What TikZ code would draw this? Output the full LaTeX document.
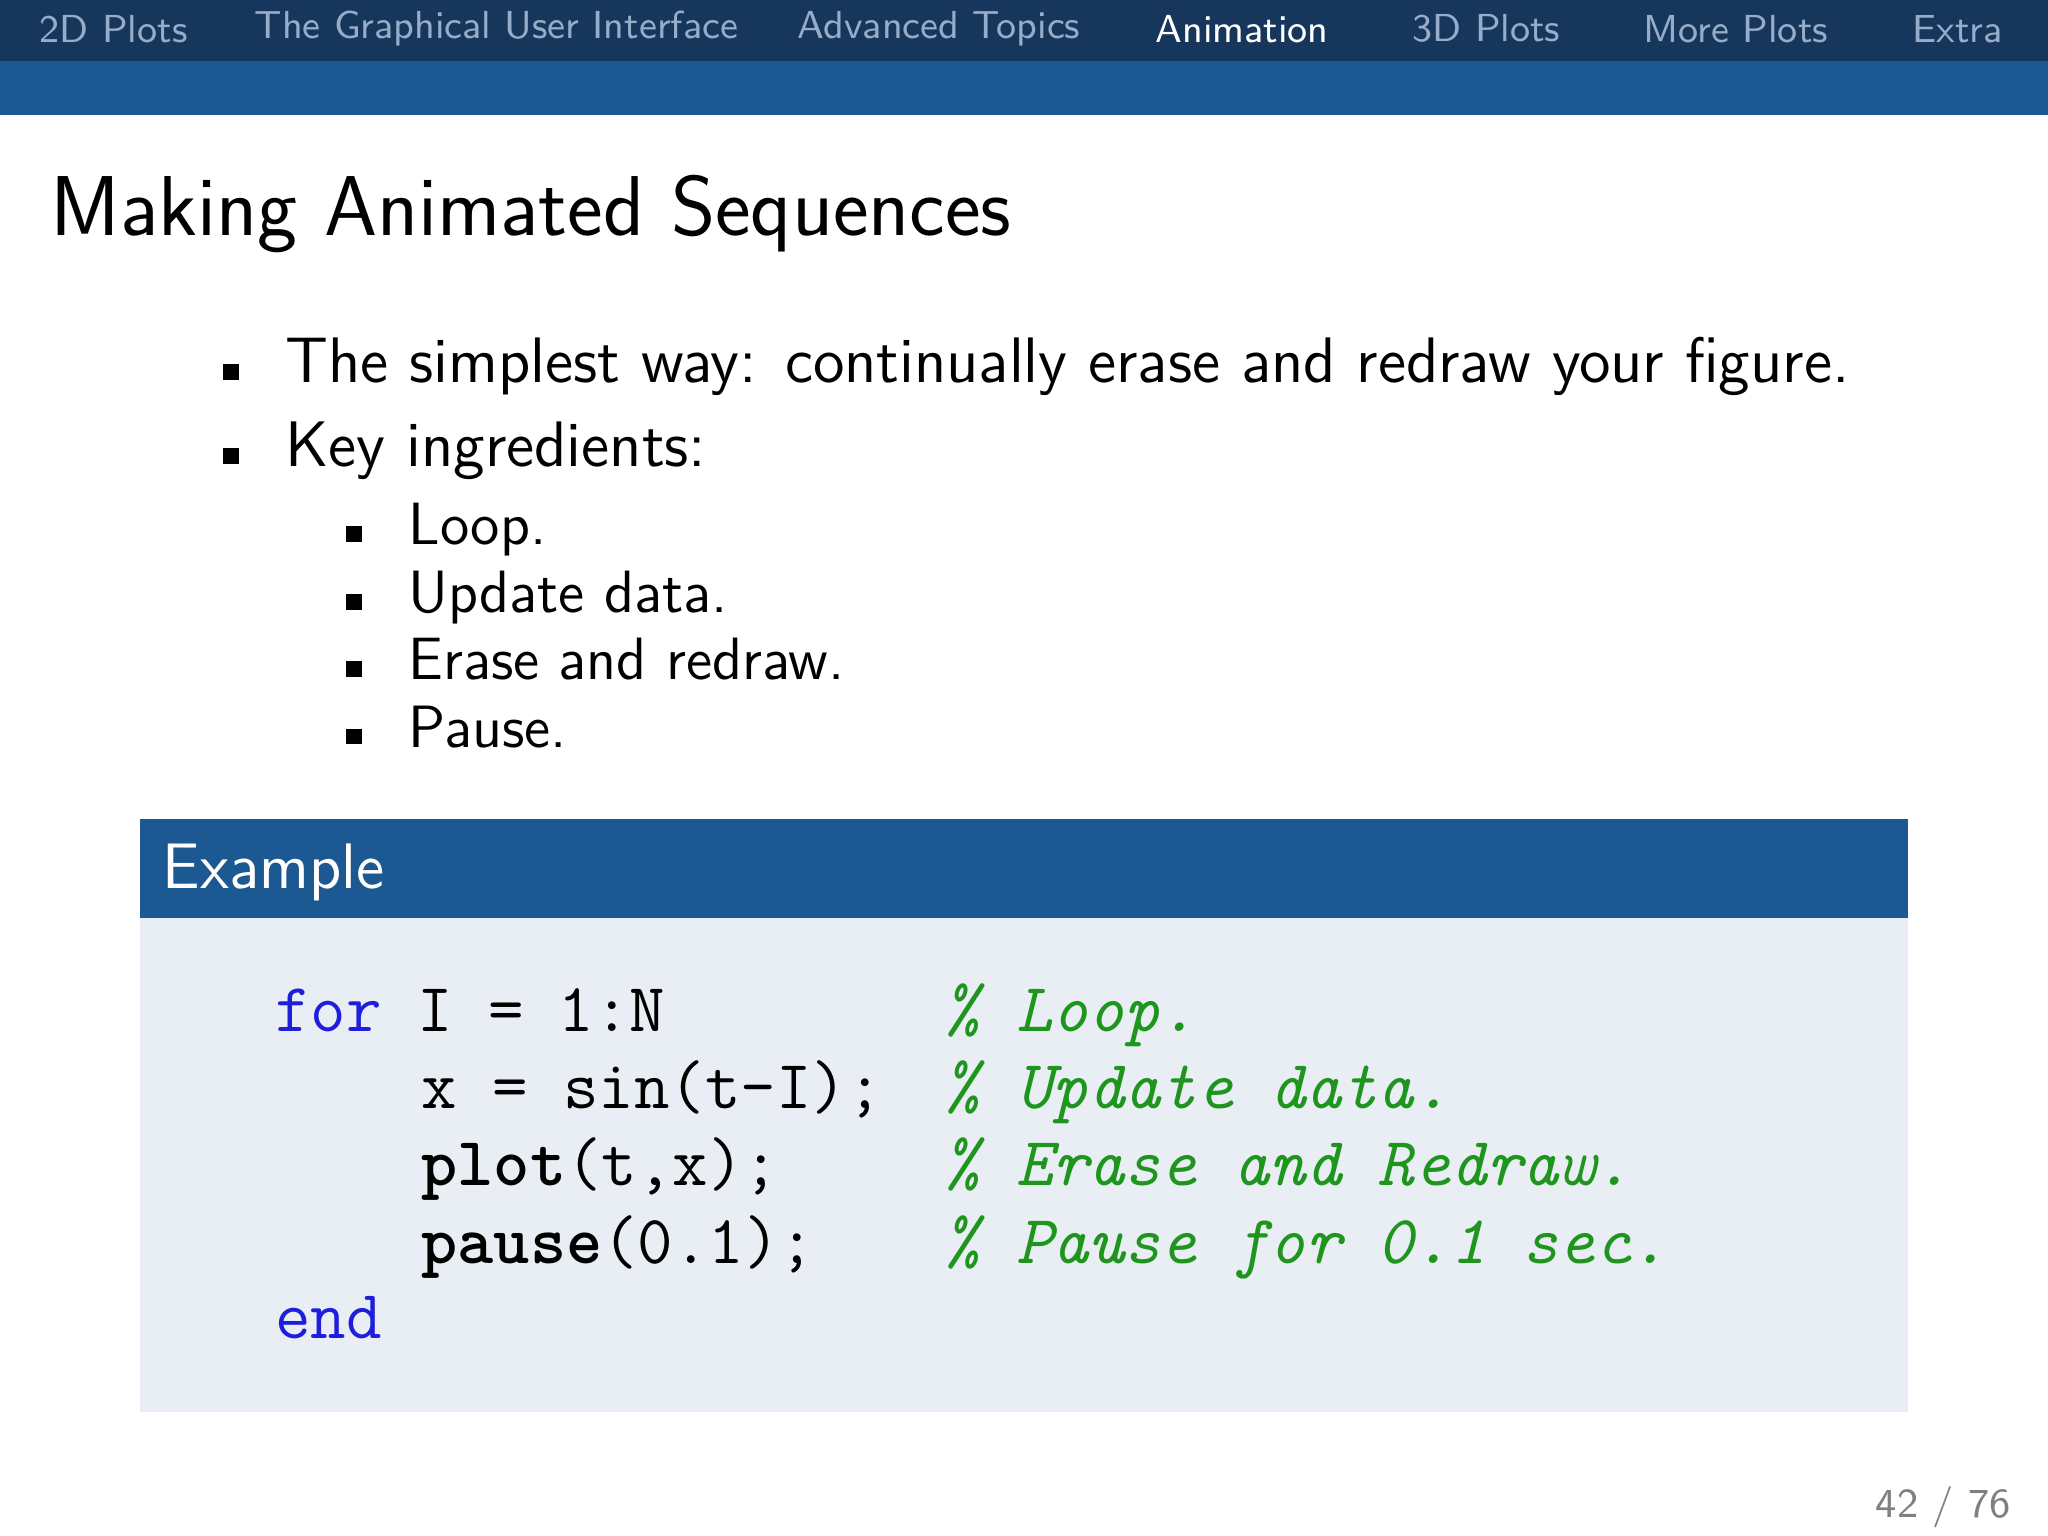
\documentclass[tikz,border=0pt]{standalone}
\usepackage{fontspec}
\newfontfamily\btt[Extension=.otf]{lmmonolt10-bold}
\definecolor{navdark}{RGB}{22,54,92}
\definecolor{navblue}{RGB}{28,88,145}
\definecolor{navgray}{RGB}{150,172,200}
\definecolor{boxbody}{RGB}{233,237,244}
\definecolor{kwblue}{RGB}{30,30,220}
\definecolor{cmgreen}{RGB}{30,150,30}
\tikzset{
  nav/.style={font=\sffamily\fontsize{8.5}{10}\selectfont,text=navgray,anchor=center,inner sep=0},
  navact/.style={nav,text=white},
  item/.style={font=\sffamily\fontsize{14}{16}\selectfont,anchor=base west,inner sep=0},
  sub/.style={font=\sffamily\fontsize{13}{15}\selectfont,anchor=base west,inner sep=0},
  code/.style={font=\ttfamily\fontsize{15}{17}\selectfont,anchor=base west,inner sep=0},
  cmt/.style={code,font=\ttfamily\itshape\fontsize{15}{17}\selectfont,text=cmgreen},
}
\newcommand{\bsq}[2]{\fill (#1-6,#2-14) rectangle (#1+6,#2-2);}
\begin{document}
\begin{tikzpicture}[x=0.01cm,y=-0.01cm]
\useasboundingbox (0,0) rectangle (1568,1176);
\fill[white] (0,0) rectangle (1568,1176);
\fill[navdark] (0,0) rectangle (1568,47);
\fill[navblue] (0,47) rectangle (1568,88);
\node[nav] (n1) at (87,22) {2D Plots};
\node[nav] (n2) at (380,22) {The Graphical User Interface};
\node[nav] (n3) at (719,22) {Advanced Topics};
\node[navact] (n4) at (951,22) {Animation};
\node[nav] (n5) at (1138,22) {3D Plots};
\node[nav] (n6) at (1329,22) {More Plots};
\node[nav] (n7) at (1499,22) {Extra};
\node[anchor=base west,inner sep=0,font=\sffamily\fontsize{18.5}{20}\selectfont] (title) at (38,180) {Making Animated Sequences};
\bsq{177}{293}\node[item] (b1) at (218,293) {The simplest way: continually erase and redraw your figure.};
\bsq{177}{357}\node[item] (b2) at (218,357) {Key ingredients:};
\bsq{271}{417}\node[sub] (s1) at (312,417) {Loop.};
\bsq{271}{469}\node[sub] (s2) at (312,469) {Update data.};
\bsq{271}{520}\node[sub] (s3) at (312,520) {Erase and redraw.};
\bsq{271}{572}\node[sub] (s4) at (312,572) {Pause.};
\fill[navblue] (107,627) rectangle (1461,703);
\fill[boxbody] (107,703) rectangle (1461,1081);
\node[anchor=base west,inner sep=0,text=white,font=\sffamily\fontsize{14}{16}\selectfont] (ex) at (124,680) {Example};
\node[code] (c1) at (210,790) {\textcolor{kwblue}{for} I = 1:N};
\node[code] (c2) at (322,849) {x = sin(t-I);};
\node[code] (c3) at (322,908) {{\btt plot}(t,x);};
\node[code] (c4) at (322,967) {{\btt pause}(0.1);};
\node[code,text=kwblue] (c5) at (210,1025) {end};
\node[cmt] (m1) at (722,790) {\% Loop.};
\node[cmt] (m2) at (722,849) {\% Update data.};
\node[cmt] (m3) at (722,908) {\% Erase and Redraw.};
\node[cmt] (m4) at (722,967) {\% Pause for 0.1 sec.};
\node[anchor=base east,inner sep=0,text=gray,font=\sffamily\fontsize{9}{10}\selectfont] (pg) at (1540,1162) {42 / 76};
\end{tikzpicture}
\end{document}
